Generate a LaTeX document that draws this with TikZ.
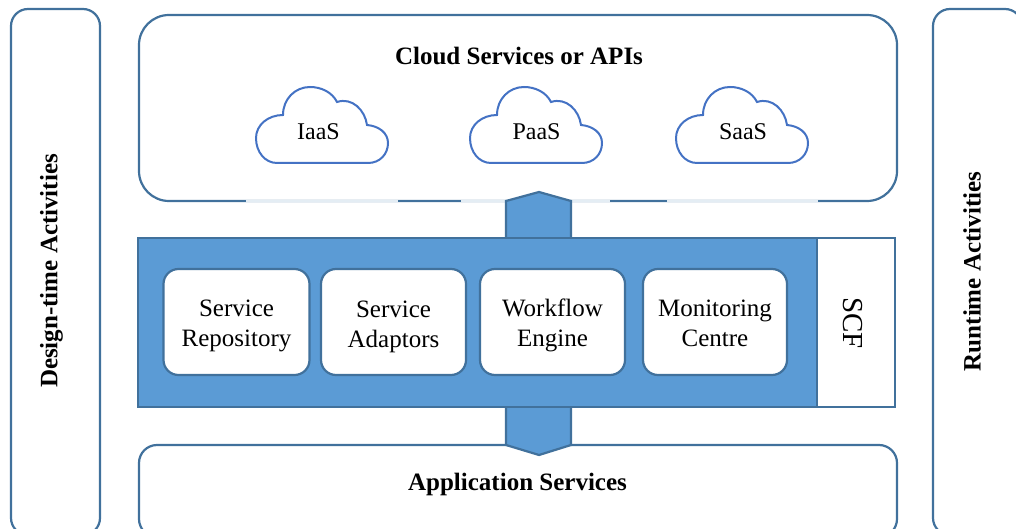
\documentclass[tikz,border=0pt]{standalone}
\usepackage{fontspec}
\setmainfont{Liberation Serif}
\definecolor{edgeblue}{HTML}{41719C}
\definecolor{cloudblue}{HTML}{4472C4}
\definecolor{fillblue}{HTML}{5B9BD5}
\definecolor{paleline}{HTML}{E4EDF4}
\newcommand{\twolines}[3][18]{\rule{0pt}{\dimexpr #1pt+6pt\relax}#2\\#3\rule[-6pt]{0pt}{6pt}}
\tikzset{
  panel/.style={draw=edgeblue,line width=2.2pt,fill=white,rounded corners=#1,inner sep=0pt,outer sep=0pt},
  module/.style={draw=edgeblue,line width=2.2pt,fill=white,rounded corners=15pt,minimum width=146pt,minimum height=106pt,inner sep=0pt,outer sep=0pt,align=center,font=\fontsize{25}{30}\selectfont},
  barbox/.style={draw=edgeblue,line width=2.2pt,inner sep=0pt,outer sep=0pt},
  arrowbody/.style={draw=edgeblue,line width=2.2pt,fill=fillblue,line join=miter},
  cloudline/.style={draw=cloudblue,line width=2pt,fill=white},
  boldlabel/.style={font=\fontsize{25}{30}\selectfont\bfseries,inner sep=0pt},
  cloudlabel/.style={font=\fontsize{24}{28}\selectfont,inner sep=0pt},
  paleseg/.style={draw=paleline,line width=2.4pt}
}
\newcommand{\cloudshape}[2]{%
  \begin{scope}[shift={(#1,#2)}]
    \draw[cloudline] (22,77) -- (113,77) .. controls (125,77) and (133,68) .. (133,57)
      .. controls (133,47) and (124,40) .. (112,39)
      .. controls (110,24) and (97,11) .. (82,16)
      .. controls (77,6) and (66,1) .. (55,1)
      .. controls (40,1) and (28,13) .. (28,29)
      .. controls (13,29) and (1,39) .. (1,52)
      .. controls (1,66) and (10,77) .. (22,77) -- cycle;
  \end{scope}}
\begin{document}
\begin{tikzpicture}[x=1pt,y=-1pt]
\useasboundingbox (0,0) rectangle (1016,529);
\clip (0,0) rectangle (1016,529);
% side panels
\node[panel=17pt,minimum width=89pt,minimum height=526pt] (design) at (55.5,272) {};
\node[panel=17pt,minimum width=89pt,minimum height=526pt] (runtime) at (977.5,272) {};
\node[boldlabel,rotate=90] (designlabel) at (51.5,271) {Design-time Activities};
\node[boldlabel,rotate=90] (runtimelabel) at (972,271.5) {Runtime Activities};
% top and bottom panels
\node[panel=30pt,minimum width=758pt,minimum height=186pt] (cloudpanel) at (518,108) {};
\node[panel=18pt,minimum width=758pt,minimum height=92pt] (apppanel) at (518,491) {};
\node[boldlabel] (cloudtitle) at (519,56) {Cloud Services or APIs};
\node[boldlabel] (apptitle) at (517.5,484) {Application Services};
% pale stretches of the top panel's lower edge
\draw[paleseg] (246,201) -- (398,201);
\draw[paleseg] (461,201) -- (507,201);
\draw[paleseg] (571,201) -- (610,201);
\draw[paleseg] (667,201) -- (818,201);
% clouds
\cloudshape{255}{86}
\cloudshape{469}{86}
\cloudshape{675}{86}
\node[cloudlabel] (iaas) at (318.5,132) {IaaS};
\node[cloudlabel] (paas) at (536.5,132) {PaaS};
\node[cloudlabel] (saas) at (743,132) {SaaS};
% double arrow bodies
\draw[arrowbody] (506,240) -- (506,201) -- (539,192) -- (571,201) -- (571,240);
\draw[arrowbody] (506,405) -- (506,445) -- (539,455) -- (571,445) -- (571,405);
% central bar
\node[barbox,fill=fillblue,minimum width=679pt,minimum height=169pt] (bar) at (477.5,322.5) {};
\node[barbox,fill=white,minimum width=78pt,minimum height=169pt] (scf) at (856,322.5) {};
\node[font=\fontsize{29}{32}\selectfont,rotate=-90,inner sep=0pt] (scflabel) at (853,323) {SCF};
\node[module] (repo) at (236.5,322) {\twolines{Service}{Repository}};
\node[module,minimum width=145pt] (adaptors) at (393.5,322) {\twolines[20]{Service}{Adaptors}};
\node[module,minimum width=145pt] (workflow) at (552.5,322) {\twolines{Workflow}{Engine}};
\node[module,minimum width=144pt] (monitor) at (715,322) {\twolines{Monitoring}{Centre}};
\end{tikzpicture}
\end{document}
